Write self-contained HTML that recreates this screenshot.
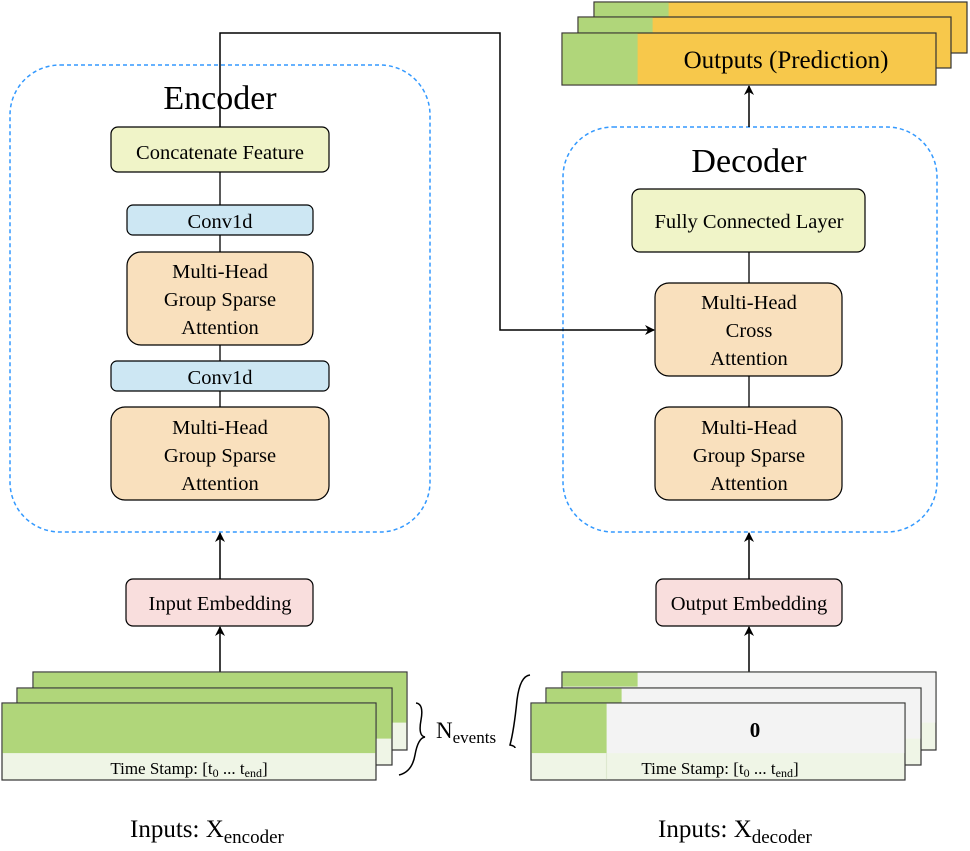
<!DOCTYPE html>
<html><head><style>body{margin:0;background:#fff}svg{display:block}svg text,svg tspan{font-family:"Liberation Serif","Times New Roman",serif !important;fill:#000}</style></head><body>
<svg width="970" height="851" viewBox="0 0 970 851" xmlns="http://www.w3.org/2000/svg" font-family="Liberation Serif, serif">
<defs><marker id="a" markerWidth="10" markerHeight="10" refX="9" refY="5" orient="auto" markerUnits="userSpaceOnUse"><path d="M0,0 L10,5 L0,10 L3,5 z" fill="#000"/></marker></defs>
<rect x="10" y="65" width="420" height="467" rx="50" fill="none" stroke="#3399ff" stroke-width="1.5" stroke-dasharray="4,3"/>
<rect x="563" y="127" width="374" height="405" rx="50" fill="none" stroke="#3399ff" stroke-width="1.5" stroke-dasharray="4,3"/>
<text x="220" y="109" font-size="34" text-anchor="middle" font-family="Liberation Serif, serif">Encoder</text>
<text x="749" y="172" font-size="34" text-anchor="middle" font-family="Liberation Serif, serif">Decoder</text>
<g stroke="#000" stroke-width="1.3">
<line x1="220" y1="172" x2="220" y2="205"/><line x1="220" y1="235" x2="220" y2="252"/><line x1="220" y1="345" x2="220" y2="361"/><line x1="220" y1="391" x2="220" y2="407"/>
<line x1="749" y1="252" x2="749" y2="283"/><line x1="749" y1="376" x2="749" y2="407"/>
</g>
<g stroke="#000" stroke-width="1.2">
<rect x="111" y="127" width="218" height="45" rx="7" fill="#f0f4c8"/>
<rect x="127" y="205" width="186" height="30" rx="6" fill="#cde7f3"/>
<rect x="127" y="252" width="186" height="93" rx="14" fill="#f9e0bd"/>
<rect x="111" y="361" width="218" height="30" rx="6" fill="#cde7f3"/>
<rect x="111" y="407" width="218" height="93" rx="14" fill="#f9e0bd"/>
<rect x="126" y="579" width="187" height="47" rx="7" fill="#f9dedd"/>
<rect x="632" y="189" width="233" height="63" rx="8" fill="#f0f4c8"/>
<rect x="655" y="283" width="187" height="93" rx="14" fill="#f9e0bd"/>
<rect x="655" y="407" width="187" height="93" rx="14" fill="#f9e0bd"/>
<rect x="656" y="579" width="186" height="47" rx="7" fill="#f9dedd"/>
</g>
<g font-size="20.5" text-anchor="middle" font-family="Liberation Serif, serif">
<text x="220" y="159">Concatenate Feature</text>
<text x="220" y="228">Conv1d</text>
<text x="220" y="278">Multi-Head</text><text x="220" y="306">Group Sparse</text><text x="220" y="334">Attention</text>
<text x="220" y="384">Conv1d</text>
<text x="220" y="434">Multi-Head</text><text x="220" y="462">Group Sparse</text><text x="220" y="490">Attention</text>
<text x="220" y="610">Input Embedding</text>
<text x="749" y="228">Fully Connected Layer</text>
<text x="749" y="309">Multi-Head</text><text x="749" y="337">Cross</text><text x="749" y="365">Attention</text>
<text x="749" y="434">Multi-Head</text><text x="749" y="462">Group Sparse</text><text x="749" y="490">Attention</text>
<text x="749" y="610">Output Embedding</text>
</g>
<g stroke="#000" stroke-width="1.5" fill="none">
<line x1="220" y1="579" x2="220" y2="533" marker-end="url(#a)"/>
<line x1="220" y1="672" x2="220" y2="627" marker-end="url(#a)"/>
<line x1="749" y1="579" x2="749" y2="533" marker-end="url(#a)"/>
<line x1="749" y1="672" x2="749" y2="627" marker-end="url(#a)"/>
<line x1="749" y1="127" x2="749" y2="86" marker-end="url(#a)"/>
<polyline points="220,127 220,33 500,33 500,330 654,330" marker-end="url(#a)"/>
</g>
<g stroke="#333" stroke-width="1.2">
<rect x="594" y="2" width="373" height="51" fill="#f7c84b"/><rect x="594.6" y="2.6" width="74" height="14" fill="#b0d67a" stroke="none"/>
<rect x="578" y="17" width="373" height="51" fill="#f7c84b"/><rect x="578.6" y="17.6" width="74" height="15" fill="#b0d67a" stroke="none"/>
<rect x="562" y="33" width="374" height="52" fill="#f7c84b"/><rect x="562.6" y="33.6" width="75" height="50.8" fill="#b0d67a" stroke="none"/>
</g>
<text x="786" y="68" font-size="25" text-anchor="middle" font-family="Liberation Serif, serif">Outputs (Prediction)</text>
<g stroke="#333" stroke-width="1.2">
<rect x="33" y="672" width="374" height="78" fill="#eff5e6"/><rect x="33.6" y="672.6" width="372.8" height="50" fill="#b0d67a" stroke="none"/>
<rect x="17" y="688" width="375" height="77" fill="#eff5e6"/><rect x="17.6" y="688.6" width="373.8" height="50" fill="#b0d67a" stroke="none"/>
<rect x="2" y="703" width="374" height="77" fill="#eff5e6"/><rect x="2.6" y="703.6" width="372.8" height="49.5" fill="#b0d67a" stroke="none"/>
</g>
<text x="189" y="774" font-size="17" text-anchor="middle" font-family="Liberation Serif, serif">Time Stamp: [t<tspan font-size="12" dy="3">0</tspan><tspan dy="-3"> ... t</tspan><tspan font-size="12" dy="3">end</tspan><tspan dy="-3">]</tspan></text>
<g stroke="#333" stroke-width="1.2">
<rect x="562" y="672" width="374" height="78" fill="#eff5e6"/><rect x="562.6" y="672.6" width="372.8" height="50" fill="#f3f3f3" stroke="none"/><rect x="562.6" y="672.6" width="75" height="14" fill="#b0d67a" stroke="none"/>
<rect x="546" y="688" width="375" height="77" fill="#eff5e6"/><rect x="546.6" y="688.6" width="373.8" height="50" fill="#f3f3f3" stroke="none"/><rect x="546.6" y="688.6" width="75" height="15" fill="#b0d67a" stroke="none"/>
<rect x="531" y="703" width="374" height="77" fill="#eff5e6"/><rect x="531.6" y="703.6" width="372.8" height="49.5" fill="#f3f3f3" stroke="none"/><rect x="531.6" y="703.6" width="75" height="49.5" fill="#b0d67a" stroke="none"/>
<line x1="606.5" y1="753" x2="606.5" y2="779.4" stroke="#dde8cf"/>
</g>
<text x="755" y="737" font-size="21" font-weight="bold" text-anchor="middle" font-family="Liberation Serif, serif">0</text>
<text x="720" y="774" font-size="17" text-anchor="middle" font-family="Liberation Serif, serif">Time Stamp: [t<tspan font-size="12" dy="3">0</tspan><tspan dy="-3"> ... t</tspan><tspan font-size="12" dy="3">end</tspan><tspan dy="-3">]</tspan></text>
<path d="M416,703 Q424,704 421,720 Q418,736 425,737 Q418,738 415,755 Q412,772 399,775" fill="none" stroke="#000" stroke-width="1.5"/>
<path d="M530,675 Q520,676 517,700 Q514,730 510,745 Q515,746 515,748" fill="none" stroke="#000" stroke-width="1.5"/>
<text x="436" y="738" font-size="23" font-family="Liberation Serif, serif">N<tspan font-size="17" dy="5">events</tspan></text>
<text x="130" y="837" font-size="25" font-family="Liberation Serif, serif">Inputs: X<tspan font-size="19" dy="6">encoder</tspan></text>
<text x="658" y="837" font-size="25" font-family="Liberation Serif, serif">Inputs: X<tspan font-size="19" dy="6">decoder</tspan></text>
</svg>
</body></html>
